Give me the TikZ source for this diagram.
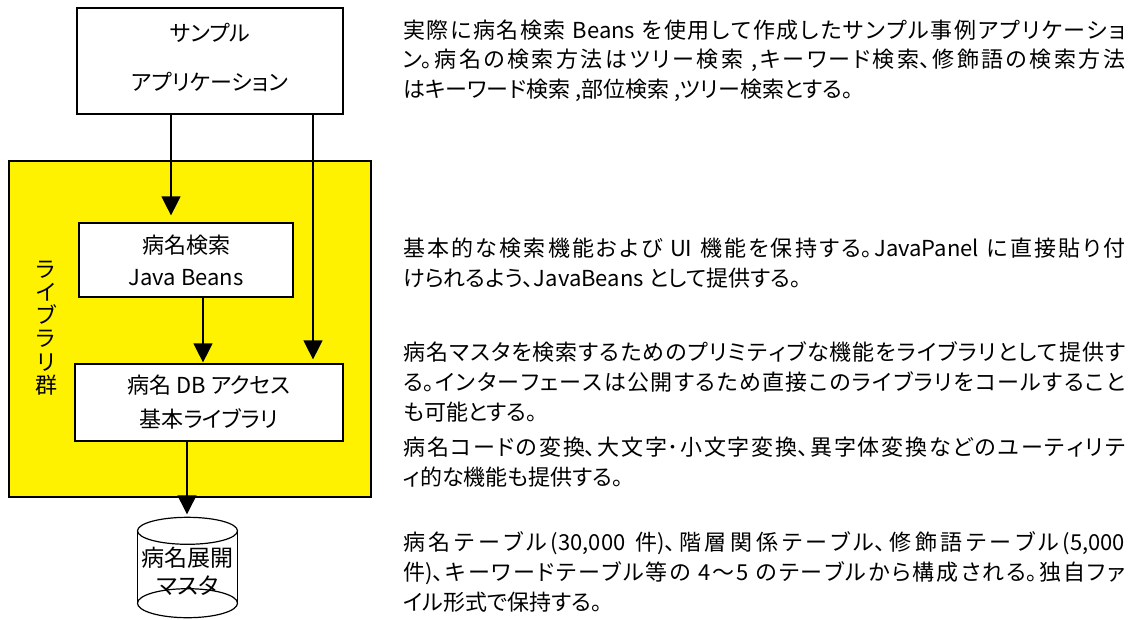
\documentclass[tikz,border=0pt]{standalone}
\usepackage{fontspec}
\setmainfont{Noto Sans CJK JP}[RawFeature=+palt]
\usetikzlibrary{arrows.meta}
\XeTeXlinebreaklocale "ja"
\XeTeXlinebreakskip=0pt plus 2pt minus 0.3pt
\tolerance=10000
\hbadness=10000
\newcommand\fullline[1]{\parbox[b]{722pt}{\parfillskip=0pt\relax #1}}
\begin{document}
\begin{tikzpicture}[x=1pt,y=-1pt,
  box/.style={draw, line width=1.2pt, fill=white, inner sep=0pt, align=center},
  arr/.style={line width=1.2pt, -{Triangle[length=19pt,width=19pt]}},
  jline/.style={anchor=base west, inner sep=0pt, font=\fontsize{22}{29.7}\selectfont},
  lline/.style={anchor=base west, inner sep=0pt, font=\fontsize{22}{29.7}\selectfont},
  lbl/.style={inner sep=0pt, align=center}]
\useasboundingbox (0,0) rectangle (1136,619);

% yellow library group
\node[draw, line width=1.2pt, fill=yellow, minimum width=362pt, minimum height=336pt, inner sep=0pt] (lib) at (190,329) {};
\node[lbl, font=\fontsize{22}{23.3}\selectfont] (libtxt) at (46,328) {ラ\\イ\\ブ\\ラ\\リ\\群};

% top application box
\node[box, minimum width=266pt, minimum height=106pt] (app) at (210,61) {};
\node[lbl, font=\fontsize{22}{49}\selectfont] (apptxt) at (210,57.5) {サンプル\\アプリケーション};

% beans box
\node[box, minimum width=214pt, minimum height=74pt, font=\fontsize{22}{32}\selectfont] (beans) at (186,260) {病名検索\\Java Beans};

% db access box
\node[box, minimum width=268pt, minimum height=77pt, font=\fontsize{22}{34}\selectfont] (dbaccess) at (209,402.5) {病名 DB アクセス\\基本ライブラリ};

% database cylinder
\node[inner sep=0pt, minimum width=100pt, minimum height=100pt] (db) at (187.5,567.5) {};
\draw[line width=1.2pt] ([yshift=-13.5pt]db.north) ellipse [x radius=50pt, y radius=13.5pt];
\draw[line width=1.2pt] ([yshift=-13.5pt]db.north west) -- ([yshift=14.5pt]db.south west);
\draw[line width=1.2pt] ([yshift=-13.5pt]db.north east) -- ([yshift=14.5pt]db.south east);
\draw[line width=1.2pt] ([yshift=14.5pt]db.south) ellipse [x radius=50pt, y radius=14.5pt];
\node[lbl, font=\fontsize{23}{28}\selectfont] (dbtxt) at (187.5,571) {病名展開\\マスタ};

% connectors
\draw[arr, shorten >=7pt] ([xshift=-39pt]app.south) -- ([xshift=-39pt]app.south |- beans.north);
\draw[arr, shorten >=1pt] ([xshift=17pt]beans.south) -- ([xshift=17pt]beans.south |- dbaccess.north);
\draw[arr, shorten >=4pt] ([xshift=103pt]app.south) -- ([xshift=103pt]app.south |- dbaccess.north);
\draw[arr, shorten >=3pt] ([xshift=-22pt]dbaccess.south) -- ([xshift=-22pt]dbaccess.south |- db.north);

% descriptions
\node[jline] (d1a) at (403,38) {\fullline{実際に病名検索 Beans を使用して作成したサンプル事例アプリケーショ}};
\node[jline] (d1b) at (403,67.7) {\fullline{ン。病名の検索方法はツリー検索 ,キーワード検索、修飾語の検索方法}};
\node[lline] (d1c) at (403,97.4) {はキーワード検索 ,部位検索 ,ツリー検索とする。};

\node[jline] (d2a) at (403,256) {\fullline{基本的な検索機能および UI 機能を保持する。JavaPanel に直接貼り付}};
\node[lline] (d2b) at (403,286) {けられるよう、JavaBeans として提供する。};

\node[jline] (d3a) at (403,360) {\fullline{病名マスタを検索するためのプリミティブな機能をライブラリとして提供す}};
\node[jline] (d3b) at (403,390) {\fullline{る。インターフェースは公開するため直接このライブラリをコールすること}};
\node[lline] (d3c) at (403,420) {も可能とする。};
\node[jline] (d3d) at (403,455) {\fullline{病名コードの変換、大文字･小文字変換、異字体変換などのユーティリテ}};
\node[lline] (d3e) at (403,485) {ィ的な機能も提供する。};

\node[jline] (d4a) at (403,550) {\fullline{病名テーブル(30,000 件)、階層関係テーブル、修飾語テーブル(5,000}};
\node[jline] (d4b) at (403,580) {\fullline{件)、キーワードテーブル等の 4～5 のテーブルから構成される。独自ファ}};
\node[lline] (d4c) at (403,610) {イル形式で保持する。};
\end{tikzpicture}
\end{document}
